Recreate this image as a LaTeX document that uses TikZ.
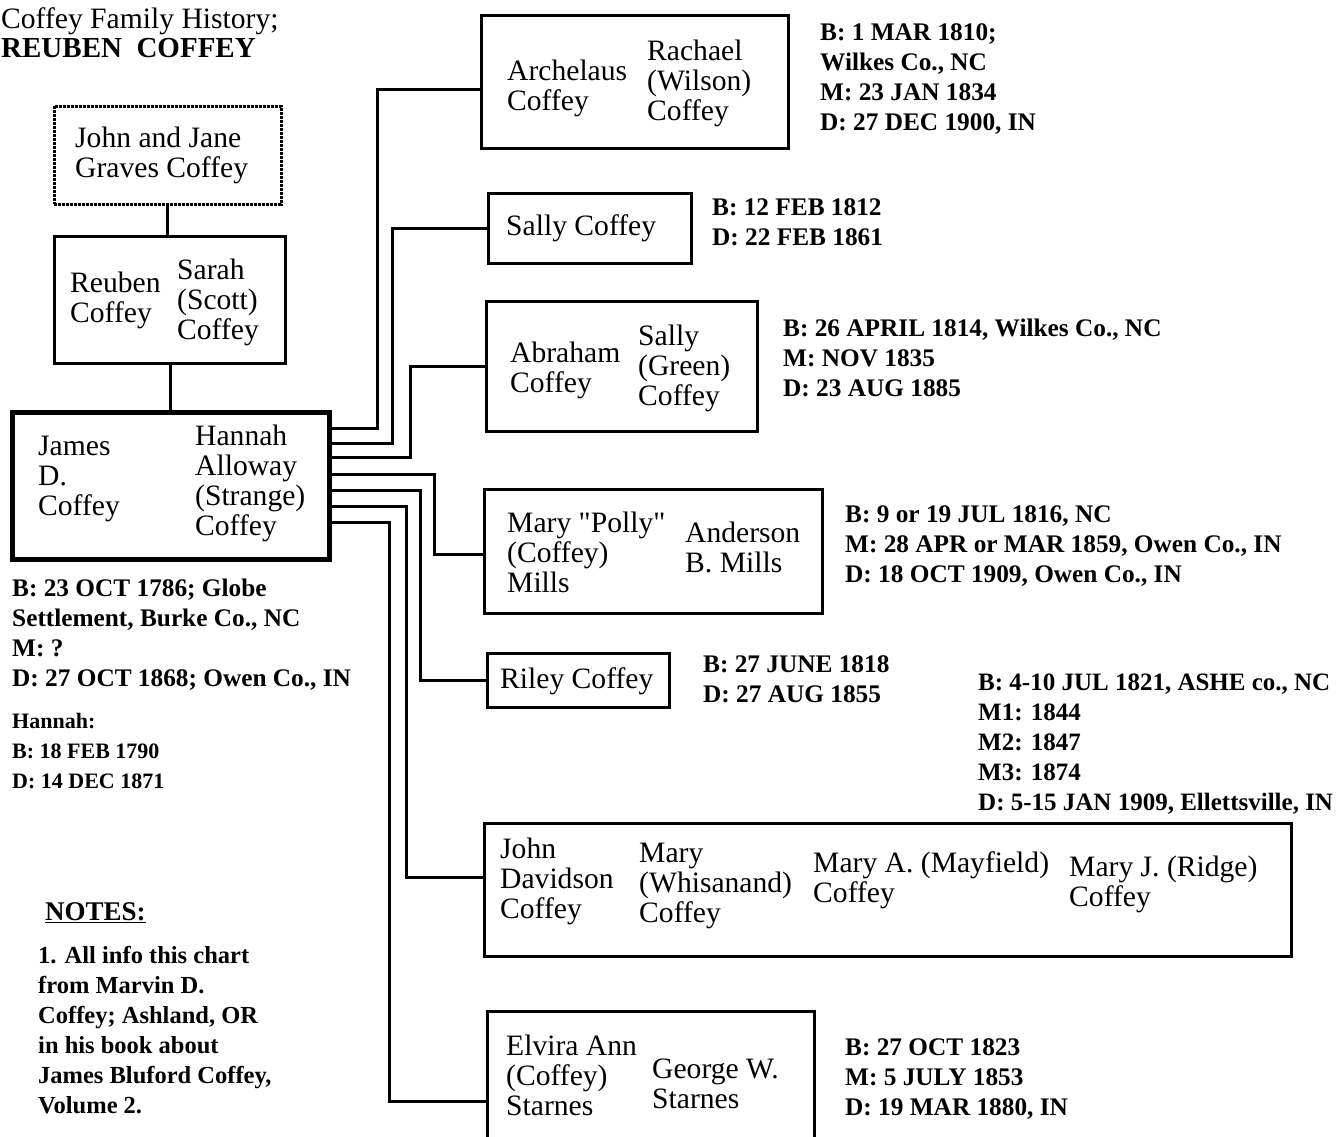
\documentclass[tikz,border=0pt]{standalone}
\usepackage{fontspec}
\setmainfont{Liberation Serif}[Ligatures=TeXOff]
\usetikzlibrary{calc}
\newcommand\ml[1]{\begin{tabular}[t]{@{}l@{}}#1\end{tabular}}
\tikzset{
  box/.style={draw, line width=3pt, inner sep=0pt, anchor=north west},
  nm/.style={inner sep=0pt, anchor=base west, font=\fontsize{29.6}{30}\selectfont},
  dt/.style={inner sep=0pt, anchor=base west, font=\fontsize{25.3}{30}\selectfont\bfseries},
  sm/.style={inner sep=0pt, anchor=base west, font=\fontsize{22}{30}\selectfont\bfseries},
  conn/.style={line width=3pt, line join=miter},
}
\begin{document}
\begin{tikzpicture}[x=1pt, y=-1pt]
\useasboundingbox[fill=white] (0,0) rectangle (1344,1136);

% title
\node[nm] (t1) at (1,28) {Coffey Family History;};
\node[nm, font=\fontsize{29}{30}\selectfont\bfseries] (t2) at (1,57) {REUBEN\enspace COFFEY};

% boxes
\node[box, densely dotted, line width=2.5pt, minimum width=227pt, minimum height=98pt] (john) at (53,105) {};
\node[box, minimum width=231pt, minimum height=127pt] (reuben) at (53,235) {};
\node[box, line width=4.5pt, minimum width=317pt, minimum height=147pt] (james) at (10,410) {};
\node[box, minimum width=307pt, minimum height=133pt] (arch) at (480,14) {};
\node[box, minimum width=203pt, minimum height=70pt] (sally) at (487,192) {};
\node[box, minimum width=271pt, minimum height=130pt] (abr) at (485,300) {};
\node[box, minimum width=338pt, minimum height=124pt] (mary) at (483,488) {};
\node[box, minimum width=182pt, minimum height=54pt] (riley) at (486,652) {};
\node[box, minimum width=807pt, minimum height=133pt] (jd) at (483,822) {};
\node[box, minimum width=327pt, minimum height=150pt] (elv) at (486,1010) {};

% ancestors
\draw[conn] (john.south) -- (john.south |- reuben.north);
\draw[conn] (reuben.south) -- (reuben.south |- james.north);

% children connectors
\draw[conn] ([yshift=-18pt]james.north east) -- ++(46,0) |- ([yshift=-7.5pt]arch.west);
\draw[conn] ([yshift=-33pt]james.north east) -- ++(61,0) |- (sally.west);
\draw[conn] ([yshift=-47pt]james.north east) -- ++(79,0) |- (abr.west);
\draw[conn] ([yshift=-64pt]james.north east) -- ++(103,0) |- ([yshift=-3pt]mary.west);
\draw[conn] ([yshift=-80pt]james.north east) -- ++(89,0) |- (riley.west);
\draw[conn] ([yshift=-96pt]james.north east) -- ++(75,0) |- ([yshift=12.5pt]jd.west);
\draw[conn] ([yshift=-112pt]james.north east) -- ++(58,0) |- ([yshift=-15pt]elv.west);

% texts in boxes
\node[nm] (johnT) at (75,147) {\ml{John and Jane\\Graves Coffey}};
\node[nm] (reubA) at (70,292) {\ml{Reuben\\Coffey}};
\node[nm] (reubB) at (177,279) {\ml{Sarah\\(Scott)\\Coffey}};
\node[nm] (jamA) at (38,455) {\ml{James\\D.\\Coffey}};
\node[nm] (jamB) at (195,445) {\ml{Hannah\\Alloway\\(Strange)\\Coffey}};
\node[nm] (archA) at (507,80) {\ml{Archelaus\\Coffey}};
\node[nm] (archB) at (647,60) {\ml{Rachael\\(Wilson)\\Coffey}};
\node[nm] (sallyT) at (506,235) {Sally Coffey};
\node[nm] (abrA) at (510,362) {\ml{Abraham\\Coffey}};
\node[nm] (abrB) at (638,345) {\ml{Sally\\(Green)\\Coffey}};
\node[nm] (maryA) at (507,532) {\ml{Mary "Polly"\\(Coffey)\\Mills}};
\node[nm] (maryB) at (685,542) {\ml{Anderson\\B. Mills}};
\node[nm] (rileyT) at (500,688) {Riley Coffey};
\node[nm] (jdA) at (500,858) {\ml{John\\Davidson\\Coffey}};
\node[nm] (jdB) at (639,862) {\ml{Mary\\(Whisanand)\\Coffey}};
\node[nm] (jdC) at (813,872) {\ml{Mary A. (Mayfield)\\Coffey}};
\node[nm] (jdE) at (1069,876) {\ml{Mary J. (Ridge)\\Coffey}};
\node[nm] (elvA) at (506,1055) {\ml{Elvira Ann\\(Coffey)\\Starnes}};
\node[nm] (elvB) at (652,1078) {\ml{George W.\\Starnes}};

% dates
\node[dt] (jamD) at (12,596) {\ml{B: 23 OCT 1786; Globe\\Settlement, Burke Co., NC\\M: ?\\D: 27 OCT 1868; Owen Co., IN}};
\node[sm] (hanD) at (12,728) {\ml{Hannah:\\B: 18 FEB 1790\\D: 14 DEC 1871}};
\node[dt] (archD) at (820,40) {\ml{B: 1 MAR 1810;\\Wilkes Co., NC\\M: 23 JAN 1834\\D: 27 DEC 1900, IN}};
\node[dt] (sallyD) at (712,215) {\ml{B: 12 FEB 1812\\D: 22 FEB 1861}};
\node[dt] (abrD) at (783,336) {\ml{B: 26 APRIL 1814, Wilkes Co., NC\\M: NOV 1835\\D: 23 AUG 1885}};
\node[dt] (maryD) at (845,522) {\ml{B: 9 or 19 JUL 1816, NC\\M: 28 APR or MAR 1859, Owen Co., IN\\D: 18 OCT 1909, Owen Co., IN}};
\node[dt] (rileyD) at (703,672) {\ml{B: 27 JUNE 1818\\D: 27 AUG 1855}};
\node[dt, font=\fontsize{25}{30}\selectfont\bfseries] (jdD) at (978,690) {\ml{B: 4-10 JUL 1821, ASHE co., NC\\M1: 1844\\M2: 1847\\M3: 1874\\D: 5-15 JAN 1909, Ellettsville, IN}};
\node[dt] (elvD) at (845,1055) {\ml{B: 27 OCT 1823\\M: 5 JULY 1853\\D: 19 MAR 1880, IN}};

% notes
\node[dt, font=\fontsize{27}{30}\selectfont\bfseries] (notesH) at (45,920) {\underline{NOTES:}};
\node[dt, font=\fontsize{24.5}{30}\selectfont\bfseries] (notes) at (38,963) {\ml{1. All info this chart\\from Marvin D.\\Coffey; Ashland, OR\\in his book about\\James Bluford Coffey,\\Volume 2.}};
\end{tikzpicture}
\end{document}
